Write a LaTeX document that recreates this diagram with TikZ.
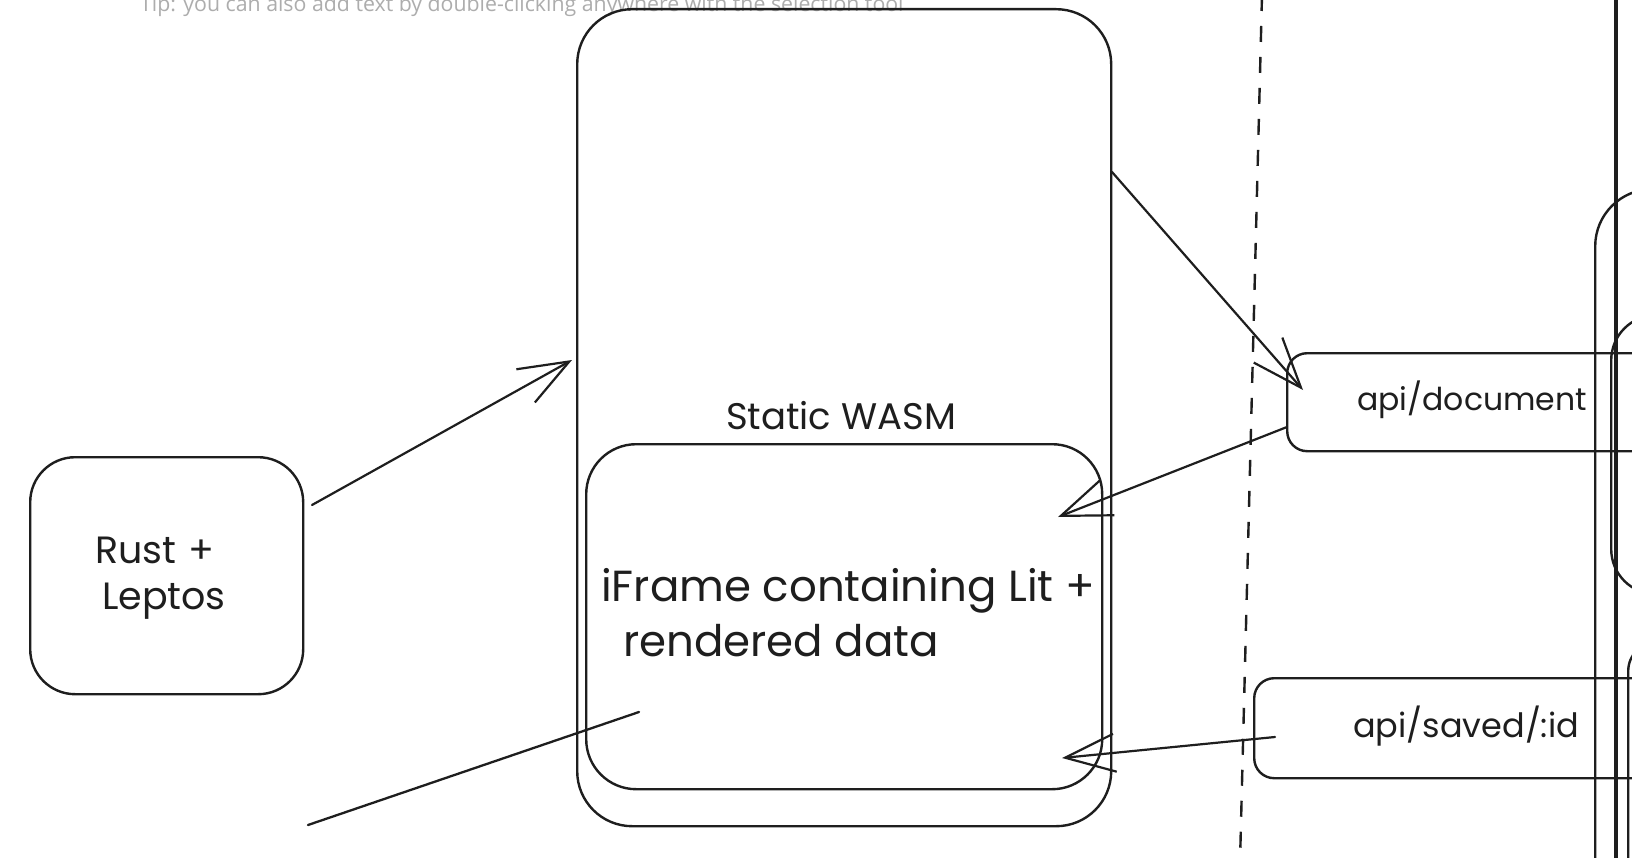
\documentclass[tikz,border=0pt]{standalone}
\usepackage{fontspec}
\setmainfont{Poppins}
\newfontfamily\tipfont{Open Sans}
\usetikzlibrary{arrows.meta}
\definecolor{ink}{HTML}{1E1E1E}
\definecolor{tipgray}{HTML}{ADADAD}
\tikzset{
  box/.style={draw=ink, line width=2.4pt, rectangle, inner sep=0pt, line join=round},
  hand/.style={text=ink, inner sep=0pt, font=\fontsize{#1}{#1}\selectfont},
  arr/.style={draw=ink, line width=2.2pt, line cap=round, line join=round,
    -{Straight Barb[length=50pt,width=38pt,line width=2.2pt]}},
  plainline/.style={draw=ink, line width=2.3pt, line cap=round},
  divider/.style={draw=ink, line width=2.4pt, dash pattern=on 16pt off 15pt},
}
\begin{document}
\begin{tikzpicture}[x=1pt,y=-1pt]
\useasboundingbox (0,0) rectangle (1632,858);
\clip (0,0) rectangle (1632,858);
\fill[white] (0,0) rectangle (1632,858);

% hint text
\node[anchor=base west, inner sep=0pt, text=tipgray, font=\tipfont\fontsize{21.3}{22}\selectfont] (tip) at (140,12)
  {Tip: you can also add text by double-clicking anywhere with the selection tool};

% divider
\coordinate (dtop) at (1262,-5);
\coordinate (dbot) at (1240,862);
\draw[divider] (dtop) -- (dbot);

% right side structures
\node[box, rounded corners=57pt, minimum width=300pt, minimum height=800pt, anchor=north west] (srvA) at (1594,188) {};
\node[box, rounded corners=45pt, minimum width=200pt, minimum height=279pt, anchor=north west] (srvB) at (1610,314) {};
\node[box, rounded corners=30pt, minimum width=200pt, minimum height=300pt, anchor=north west] (srvC) at (1627,640) {};
\coordinate (vtop) at (1616,-5);
\coordinate (vbot) at (1616,862);
\draw[ink, line width=3.4pt] (vtop) -- (vbot);

% api boxes
\node[box, rounded corners=20pt, minimum width=450pt, minimum height=98pt, anchor=north west] (apidoc) at (1286,352) {};
\node[hand=31.5, anchor=base west] (apidoctxt) at (1357,410) {api/document};
\node[box, rounded corners=20pt, minimum width=450pt, minimum height=100pt, anchor=north west] (apisaved) at (1253,677) {};
\node[hand=33.5, anchor=base west] (apisavedtxt) at (1353,737) {api/saved/:id};

% main boxes
\node[box, rounded corners=55pt, minimum width=534pt, minimum height=817pt, anchor=north west] (wasm) at (576,8) {};
\node[hand=37, anchor=base] (wasmtxt) at (841,429) {Static WASM};
\node[box, rounded corners=50pt, minimum width=516pt, minimum height=345pt, anchor=north west] (iframe) at (585,443) {};
\node[hand=43.5, anchor=base west] (iftxtA) at (601,601) {iFrame containing Lit +};
\node[hand=43.5, anchor=base west] (iftxtB) at (623,656) {rendered data};

% rust box
\node[box, rounded corners=45pt, minimum width=273pt, minimum height=237pt, anchor=north west] (rust) at (29,456) {};
\node[hand=38, anchor=base] (rusttxtA) at (155,563) {Rust\,\,+};
\node[hand=38, anchor=base] (rusttxtB) at (164,609) {Leptos};

% connector endpoints
\coordinate (a0s) at (312,505);
\coordinate (a0e) at (572,360);
\coordinate (a1s) at (1112,172);
\coordinate (a1e) at (1303,390);
\coordinate (a2s) at (1287,427);
\coordinate (a2e) at (1058,517);
\coordinate (a3s) at (1275,737);
\coordinate (a3e) at (1062,758);
\coordinate (l4s) at (639,712);
\coordinate (l4e) at (308,825);

\draw[arr] (a0s) -- (a0e);
\draw[arr] (a1s) -- (a1e);
\draw[arr] (a2s) -- (a2e);
\draw[arr] (a3s) -- (a3e);
\draw[plainline] (l4s) -- (l4e);
\end{tikzpicture}
\end{document}
